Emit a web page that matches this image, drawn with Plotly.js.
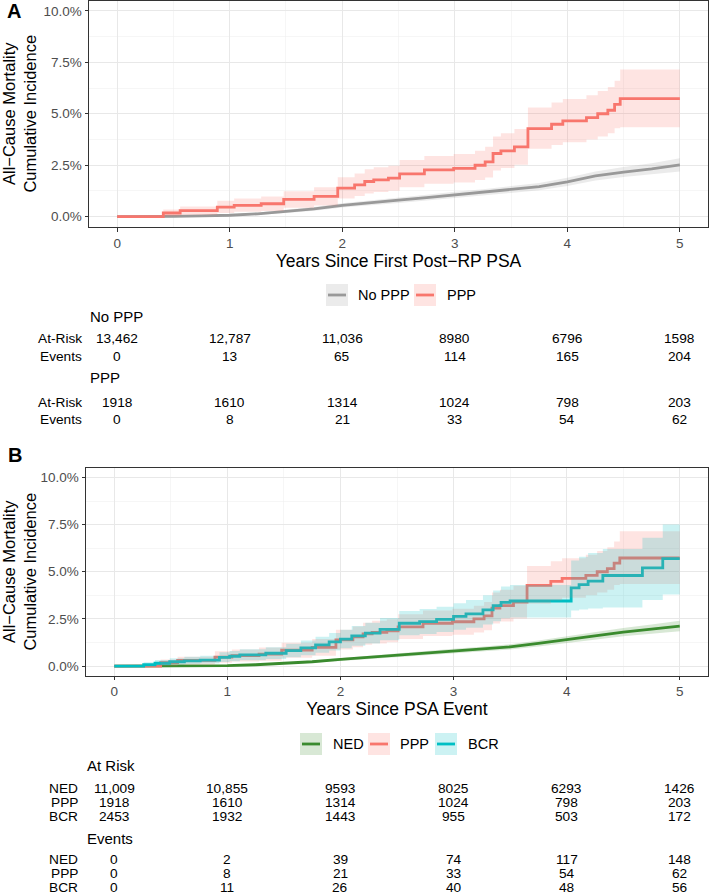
<!DOCTYPE html>
<html><head><meta charset="utf-8">
<script src="https://cdn.plot.ly/plotly-3.0.1.min.js"></script>
<style>html,body{margin:0;padding:0;background:#fff}#chart{width:709px;height:894px}</style>
</head><body><div id="chart"></div>
<script>
// ---------- axes ----------
const yearTicks = [0, 1, 2, 3, 4, 5];
const yearMinor = [0.5, 1.5, 2.5, 3.5, 4.5];
const yTickVals = [0, 2.5, 5, 7.5, 10];
const yTickText = ['0.0%', '2.5%', '5.0%', '7.5%', '10.0%'];
const yMinor = [1.25, 3.75, 6.25, 8.75];

// ---------- Panel A: No PPP (cumulative incidence, %) ----------
const noPppTime = [0,0.25,0.5,0.75,1,1.25,1.5,1.75,2,2.25,2.5,2.75,3,3.25,3.5,3.75,4,4.25,4.5,4.75,5];
const noPppEst  = [0,0,0.02,0.04,0.07,0.14,0.25,0.38,0.55,0.66,0.8,0.93,1.06,1.17,1.32,1.46,1.69,1.98,2.17,2.32,2.52];
const noPppLo   = [0,0,0,0.01,0.04,0.09,0.18,0.29,0.45,0.55,0.67,0.79,0.91,1.01,1.15,1.28,1.49,1.76,1.93,2.05,2.2];
const noPppHi   = [0,0.01,0.04,0.07,0.11,0.2,0.32,0.47,0.65,0.78,0.93,1.07,1.21,1.33,1.49,1.64,1.89,2.2,2.41,2.59,2.84];

// ---------- PPP (same cohort in both panels) ----------
const pppTime = [0,0.41,0.56,0.89,1.04,1.28,1.48,1.75,1.96,2.11,2.2,2.28,2.41,2.51,2.73,2.99,3.18,3.27,3.34,3.41,3.53,3.65,3.86,3.96,4.17,4.27,4.36,4.42,4.47,5.0];
const pppEst  = [0,0.18,0.3,0.47,0.55,0.63,0.84,0.99,1.39,1.55,1.71,1.79,1.87,2.08,2.27,2.35,2.5,2.66,3.07,3.2,3.39,4.28,4.49,4.65,4.81,5.0,5.17,5.46,5.73,5.73];
const pppLo   = [0,0.02,0.08,0.18,0.24,0.28,0.44,0.55,0.88,1.0,1.13,1.2,1.26,1.43,1.6,1.66,1.78,1.9,2.25,2.36,2.52,3.3,3.48,3.62,3.75,3.9,4.05,4.3,4.35,4.35];
const pppHi   = [0,0.35,0.5,0.78,0.88,0.98,1.24,1.43,1.92,2.1,2.3,2.4,2.48,2.75,2.95,3.04,3.2,3.4,3.9,4.05,4.26,5.3,5.55,5.72,5.9,6.1,6.3,6.6,7.15,7.15];

// ---------- Panel B: NED ----------
const nedTime = [0,0.25,0.5,0.75,1,1.25,1.5,1.75,2,2.25,2.5,2.75,3,3.25,3.5,3.75,4,4.25,4.5,4.75,5];
const nedEst  = [0,0,0,0.01,0.02,0.07,0.14,0.23,0.35,0.46,0.57,0.68,0.8,0.9,1.02,1.2,1.41,1.6,1.8,1.96,2.12];
const nedLo   = [0,0,0,0,0.01,0.04,0.09,0.17,0.27,0.37,0.47,0.57,0.68,0.77,0.88,1.04,1.23,1.4,1.58,1.71,1.84];
const nedHi   = [0,0,0.01,0.02,0.04,0.1,0.19,0.3,0.43,0.55,0.67,0.79,0.92,1.03,1.16,1.36,1.59,1.8,2.02,2.21,2.4];

// ---------- Panel B: BCR ----------
const bcrTime = [0,0.26,0.36,0.49,0.62,0.76,0.93,1.02,1.11,1.34,1.52,1.65,1.78,1.9,2.0,2.1,2.22,2.35,2.52,2.7,2.85,3.0,3.11,3.26,3.35,3.42,3.5,4.04,4.11,4.19,4.32,4.67,4.85,5.0];
const bcrEst  = [0,0.07,0.15,0.23,0.28,0.32,0.46,0.52,0.59,0.68,0.82,0.96,1.12,1.28,1.43,1.6,1.75,1.95,2.27,2.36,2.48,2.63,2.77,2.98,3.2,3.38,3.45,4.14,4.32,4.5,4.8,5.21,5.7,5.7];
const bcrLo   = [0,0,0.03,0.08,0.11,0.13,0.22,0.26,0.31,0.37,0.47,0.58,0.7,0.83,0.95,1.08,1.2,1.37,1.63,1.7,1.8,1.92,2.03,2.2,2.37,2.53,2.58,2.95,3.0,3.05,3.1,3.5,3.8,3.8];
const bcrHi   = [0,0.2,0.32,0.42,0.5,0.55,0.73,0.8,0.89,1.0,1.18,1.35,1.55,1.75,1.93,2.13,2.3,2.55,2.92,3.02,3.15,3.33,3.5,3.75,4.0,4.22,4.3,5.6,5.8,6.0,6.2,6.8,7.5,7.5];

// ---------- risk tables ----------
const riskA_noPpp_atRisk = [13462, 12787, 11036, 8980, 6796, 1598];
const riskA_noPpp_events = [0, 13, 65, 114, 165, 204];
const riskA_ppp_atRisk   = [1918, 1610, 1314, 1024, 798, 203];
const riskA_ppp_events   = [0, 8, 21, 33, 54, 62];
const riskB_groups = ['NED', 'PPP', 'BCR'];
const riskB_atRisk = [
  [11009, 10855, 9593, 8025, 6293, 1426],
  [1918, 1610, 1314, 1024, 798, 203],
  [2453, 1932, 1443, 955, 503, 172]
];
const riskB_events = [
  [0, 2, 39, 74, 117, 148],
  [0, 8, 21, 33, 54, 62],
  [0, 11, 26, 40, 48, 56]
];

// ---------- styling ----------
const W = 709, H = 894;
const px = x => x / W;
const py = y => 1 - y / H;
const FONT = 'Liberation Sans, Arial, Helvetica, sans-serif';
const COL = {grey: '#999999', red: '#F8766D', teal: '#00BFC4', green: '#3A8B2F'};
const FILL = {grey: 'rgba(153,153,153,0.2)', red: 'rgba(248,118,109,0.2)', teal: 'rgba(0,191,196,0.2)', green: 'rgba(58,139,47,0.2)'};
const fmt = v => v >= 10000 ? v.toLocaleString('en-US') : String(v);

function line(t, y, color, shape, xa, ya) {
  return {x: t, y: y, xaxis: xa, yaxis: ya, type: 'scatter', mode: 'lines',
          line: {color: color, width: 2.8, shape: shape}, hoverinfo: 'skip', showlegend: false};
}
function ribbon(t, lo, hi, fill, shape, xa, ya) {
  return [
    {x: t, y: lo, xaxis: xa, yaxis: ya, type: 'scatter', mode: 'lines',
     line: {width: 0, shape: shape}, hoverinfo: 'skip', showlegend: false},
    {x: t, y: hi, xaxis: xa, yaxis: ya, type: 'scatter', mode: 'lines', fill: 'tonexty', fillcolor: fill,
     line: {width: 0, shape: shape}, hoverinfo: 'skip', showlegend: false}
  ];
}

const traces = [
  line(noPppTime, noPppEst, COL.grey, 'linear', 'x', 'y'),
  line(pppTime, pppEst, COL.red, 'hv', 'x', 'y'),
  ...ribbon(noPppTime, noPppLo, noPppHi, FILL.grey, 'linear', 'x', 'y'),
  ...ribbon(pppTime, pppLo, pppHi, FILL.red, 'hv', 'x', 'y'),
  line(nedTime, nedEst, COL.green, 'linear', 'x2', 'y2'),
  line(pppTime, pppEst, COL.red, 'hv', 'x2', 'y2'),
  line(bcrTime, bcrEst, COL.teal, 'hv', 'x2', 'y2'),
  ...ribbon(nedTime, nedLo, nedHi, FILL.green, 'linear', 'x2', 'y2'),
  ...ribbon(pppTime, pppLo, pppHi, FILL.red, 'hv', 'x2', 'y2'),
  ...ribbon(bcrTime, bcrLo, bcrHi, FILL.teal, 'hv', 'x2', 'y2')
];

function xAxis(domain, title, anchor) {
  return {
    domain: domain, anchor: anchor, range: [-0.25, 5.25],
    tickmode: 'array', tickvals: yearTicks, ticktext: yearTicks.map(String),
    ticks: 'outside', ticklen: 3.5, tickwidth: 1, tickcolor: '#333333',
    tickfont: {family: FONT, size: 13.5, color: '#4D4D4D'},
    showline: true, mirror: true, linecolor: '#333333', linewidth: 1,
    showgrid: true, gridcolor: '#E8E8E8', gridwidth: 1, zeroline: false,
    minor: {tickmode: 'array', tickvals: yearMinor, showgrid: true, gridcolor: '#F0F0F0', gridwidth: 0.6, ticks: ''},
    title: {text: title, font: {family: FONT, size: 17.5, color: '#000000'}, standoff: 3},
    fixedrange: true
  };
}
function yAxis(domain, anchor) {
  return {
    domain: domain, anchor: anchor, range: [-0.5, 10.5],
    tickmode: 'array', tickvals: yTickVals, ticktext: yTickText,
    ticks: 'outside', ticklen: 3.5, tickwidth: 1, tickcolor: '#333333',
    tickfont: {family: FONT, size: 13.5, color: '#4D4D4D'},
    showline: true, mirror: true, linecolor: '#333333', linewidth: 1,
    showgrid: true, gridcolor: '#E8E8E8', gridwidth: 1, zeroline: false,
    minor: {tickmode: 'array', tickvals: yMinor, showgrid: true, gridcolor: '#F0F0F0', gridwidth: 0.6, ticks: ''},
    title: {text: 'All\u2212Cause Mortality<br>Cumulative Incidence', font: {family: FONT, size: 16.5, color: '#000000'}, standoff: 9},
    fixedrange: true
  };
}

const annotations = [];
const shapes = [];
const tableFont = {family: FONT, size: 13.7, color: '#000000'};
const headFont = {family: FONT, size: 15, color: '#000000'};
function txt(x, y, text, font, xanchor, xref) {
  annotations.push({xref: xref || 'paper', yref: 'paper', x: x, y: y, text: text, showarrow: false,
                    xanchor: xanchor || 'center', yanchor: 'middle', font: font, borderpad: 0});
}
function row(xref, vals, ypx) {
  vals.forEach((v, i) => txt(yearTicks[i], py(ypx), fmt(v), tableFont, 'center', xref));
}

// panel letters
txt(px(6), py(11), '<b>A</b>', {family: FONT, size: 20, color: '#000'}, 'left');
txt(px(7), py(455), '<b>B</b>', {family: FONT, size: 20, color: '#000'}, 'left');

// legends (key boxes + line + label)
function legendKey(x0, ycen, color, fill, label, textX) {
  shapes.push({type: 'rect', xref: 'paper', yref: 'paper', x0: px(x0), x1: px(x0 + 22), y0: py(ycen + 11), y1: py(ycen - 11),
               fillcolor: fill, line: {width: 0}, layer: 'above'});
  shapes.push({type: 'line', xref: 'paper', yref: 'paper', x0: px(x0 + 2), x1: px(x0 + 20), y0: py(ycen), y1: py(ycen),
               line: {color: color, width: 2.8}, layer: 'above'});
  txt(px(textX), py(ycen), label, {family: FONT, size: 14.5, color: '#000'}, 'left');
}
legendKey(326, 295, COL.grey, FILL.grey, 'No PPP', 357);
legendKey(414, 295, COL.red, FILL.red, 'PPP', 446);
legendKey(300, 744, COL.green, FILL.green, 'NED', 332);
legendKey(368, 744, COL.red, FILL.red, 'PPP', 399);
legendKey(435, 744, COL.teal, FILL.teal, 'BCR', 467);

// risk table A
txt(px(89), py(316), 'No PPP', headFont, 'left');
txt(px(83), py(339), 'At-Risk', tableFont, 'right');
row('x', riskA_noPpp_atRisk, 339);
txt(px(83), py(356), 'Events', tableFont, 'right');
row('x', riskA_noPpp_events, 356);
txt(px(89), py(378), 'PPP', headFont, 'left');
txt(px(83), py(402), 'At-Risk', tableFont, 'right');
row('x', riskA_ppp_atRisk, 402);
txt(px(83), py(419), 'Events', tableFont, 'right');
row('x', riskA_ppp_events, 419);

// risk table B
txt(px(86), py(765), 'At Risk', headFont, 'left');
const atRiskRowsY = [788, 802, 816];
riskB_groups.forEach((g, k) => { txt(px(79), py(atRiskRowsY[k]), g, tableFont, 'right'); row('x2', riskB_atRisk[k], atRiskRowsY[k]); });
txt(px(86), py(838), 'Events', headFont, 'left');
const eventRowsY = [859, 873.5, 887];
riskB_groups.forEach((g, k) => { txt(px(79), py(eventRowsY[k]), g, tableFont, 'right'); row('x2', riskB_events[k], eventRowsY[k]); });

const layout = {
  width: W, height: H, margin: {l: 0, r: 0, t: 0, b: 0, pad: 0},
  paper_bgcolor: '#ffffff', plot_bgcolor: '#ffffff',
  font: {family: FONT, color: '#000'},
  showlegend: false,
  xaxis: xAxis([px(89), px(708)], 'Years Since First Post\u2212RP PSA', 'y'),
  yaxis: yAxis([py(227), py(0.5)], 'x'),
  xaxis2: xAxis([px(86), px(708)], 'Years Since PSA Event', 'y2'),
  yaxis2: yAxis([py(675.5), py(468)], 'x2'),
  annotations: annotations,
  shapes: shapes
};

Plotly.newPlot('chart', traces, layout, {staticPlot: true, displayModeBar: false});
</script>
</body></html>
